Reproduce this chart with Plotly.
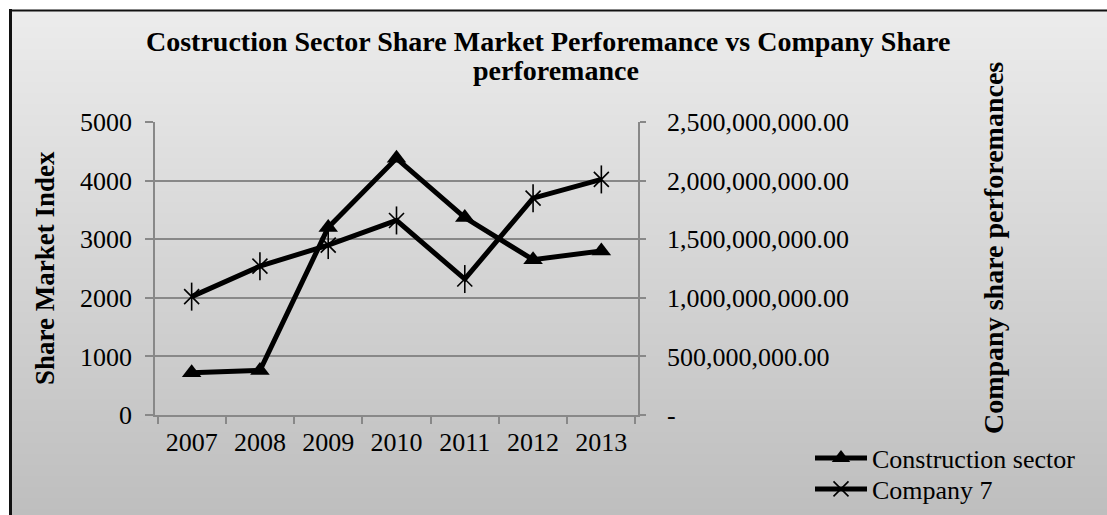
import base64
import struct
import zlib
import plotly.graph_objects as go

# ---- data ----
years = ["2007", "2008", "2009", "2010", "2011", "2012", "2013"]
construction_index = [720, 760, 3200, 4380, 3370, 2650, 2800]
company7_perf = [1.01e9, 1.27e9, 1.45e9, 1.66e9, 1.16e9, 1.85e9, 2.01e9]

left_ticks = [0, 1000, 2000, 3000, 4000, 5000]
right_tickvals = [0, 5e8, 1e9, 1.5e9, 2e9, 2.5e9]
right_ticktext = ["-", "500,000,000.00", "1,000,000,000.00", "1,500,000,000.00",
                  "2,000,000,000.00", "2,500,000,000.00"]

# ---- geometry ----
W, H = 1107, 515
ML, MR, MT, MB = 155, 469, 122, 100
PW, PH = W - ML - MR, H - MT - MB


def px_x(x):
    return (x - ML) / PW


def px_y(y):
    return (H - MB - y) / PH


FONT = "Liberation Serif, Times New Roman, serif"
GRID = "#888888"


def gradient_png(width, height, top, bottom):
    """Small greyscale PNG with a vertical linear gradient."""
    rows = b""
    for r in range(height):
        v = round(top + (bottom - top) * r / (height - 1))
        rows += b"\x00" + bytes([v]) * width

    def chunk(tag, data):
        c = struct.pack(">I", len(data)) + tag + data
        return c + struct.pack(">I", zlib.crc32(tag + data) & 0xFFFFFFFF)

    png = b"\x89PNG\r\n\x1a\n"
    png += chunk(b"IHDR", struct.pack(">IIBBBBB", width, height, 8, 0, 0, 0, 0))
    png += chunk(b"IDAT", zlib.compress(rows, 9))
    png += chunk(b"IEND", b"")
    return "data:image/png;base64," + base64.b64encode(png).decode()


bg_src = gradient_png(4, H - 10, 236, 190)

fig = go.Figure()

fig.add_trace(go.Scatter(
    x=years, y=construction_index, name="Construction sector",
    mode="lines+markers",
    line=dict(color="black", width=5),
    marker=dict(symbol="triangle-up", size=17, color="black"),
    yaxis="y", legend="legend",
))

fig.add_trace(go.Scatter(
    x=years, y=company7_perf, name="Company 7",
    mode="lines+markers",
    line=dict(color="black", width=5),
    marker=dict(symbol="x-thin-open", size=15, color="black",
                line=dict(color="black", width=1.6)),
    yaxis="y2", legend="legend2",
))
# vertical stroke completing the six-armed star marker
fig.add_trace(go.Scatter(
    x=years, y=company7_perf, mode="markers", showlegend=False, hoverinfo="skip",
    marker=dict(symbol="line-ns-open", size=20, color="black",
                line=dict(color="black", width=1.6)),
    yaxis="y2",
))

legend_style = dict(
    xanchor="left", yanchor="middle", bgcolor="rgba(0,0,0,0)",
    font=dict(size=26, family=FONT), itemwidth=52,
)

fig.update_layout(
    width=W, height=H,
    margin=dict(l=ML, r=MR, t=MT, b=MB, pad=0, autoexpand=False),
    paper_bgcolor="white",
    plot_bgcolor="rgba(0,0,0,0)",
    font=dict(family=FONT, size=26, color="black"),
    showlegend=True,
    legend=dict(x=px_x(810), y=px_y(458), **legend_style),
    legend2=dict(x=px_x(810), y=px_y(489), **legend_style),
    images=[dict(
        source=bg_src, xref="paper", yref="paper",
        x=px_x(10), y=px_y(10), sizex=(W - 10) / PW, sizey=(H - 10) / PH,
        xanchor="left", yanchor="top", sizing="stretch", layer="below",
    )],
    shapes=[
        dict(type="line", xref="paper", yref="paper", layer="above",
             x0=px_x(10.5), x1=px_x(10.5), y0=px_y(9), y1=px_y(H),
             line=dict(color="#111111", width=3)),
        dict(type="line", xref="paper", yref="paper", layer="above",
             x0=px_x(9), x1=px_x(W), y0=px_y(10.5), y1=px_y(10.5),
             line=dict(color="#111111", width=2)),
    ],
    xaxis=dict(
        type="category", categoryorder="array", categoryarray=years,
        tickson="boundaries", ticks="outside", ticklen=7, tickwidth=1.5,
        tickcolor=GRID, showline=True, linecolor=GRID, linewidth=1.5,
        showgrid=False, zeroline=False,
        tickfont=dict(size=26, family=FONT), ticklabelstandoff=3,
    ),
    yaxis=dict(
        range=[0, 5000], tickvals=left_ticks, ticks="outside", ticklen=8,
        tickwidth=1.5, tickcolor=GRID, showline=True, linecolor=GRID,
        linewidth=1.5, showgrid=True, gridcolor=GRID, gridwidth=1.5,
        zeroline=False, tickfont=dict(size=26, family=FONT),
        ticklabelstandoff=8,
    ),
    yaxis2=dict(
        range=[0, 2.5e9], overlaying="y", side="right",
        tickvals=right_tickvals, ticktext=right_ticktext,
        ticks="outside", ticklen=6, tickwidth=1.5, tickcolor=GRID,
        showline=True, linecolor=GRID, linewidth=1.5, showgrid=False,
        zeroline=False, tickfont=dict(size=26, family=FONT),
        ticklabelstandoff=16,
    ),
    annotations=[
        dict(text="<b>Costruction Sector Share Market Perforemance vs Company Share</b>",
             xref="paper", yref="paper", x=px_x(548), y=px_y(42),
             xanchor="center", yanchor="middle", showarrow=False,
             font=dict(size=28, family=FONT)),
        dict(text="<b>perforemance</b>",
             xref="paper", yref="paper", x=px_x(556), y=px_y(70),
             xanchor="center", yanchor="middle", showarrow=False,
             font=dict(size=28, family=FONT)),
        dict(text="<b>Share Market Index</b>", textangle=-90,
             xref="paper", yref="paper", x=px_x(45), y=px_y(268),
             xanchor="center", yanchor="middle", showarrow=False,
             font=dict(size=27, family=FONT)),
        dict(text="<b>Company share perforemances</b>", textangle=-90,
             xref="paper", yref="paper", x=px_x(993), y=px_y(248),
             xanchor="center", yanchor="middle", showarrow=False,
             font=dict(size=28, family=FONT)),
    ],
)

fig.write_html("out.html")
